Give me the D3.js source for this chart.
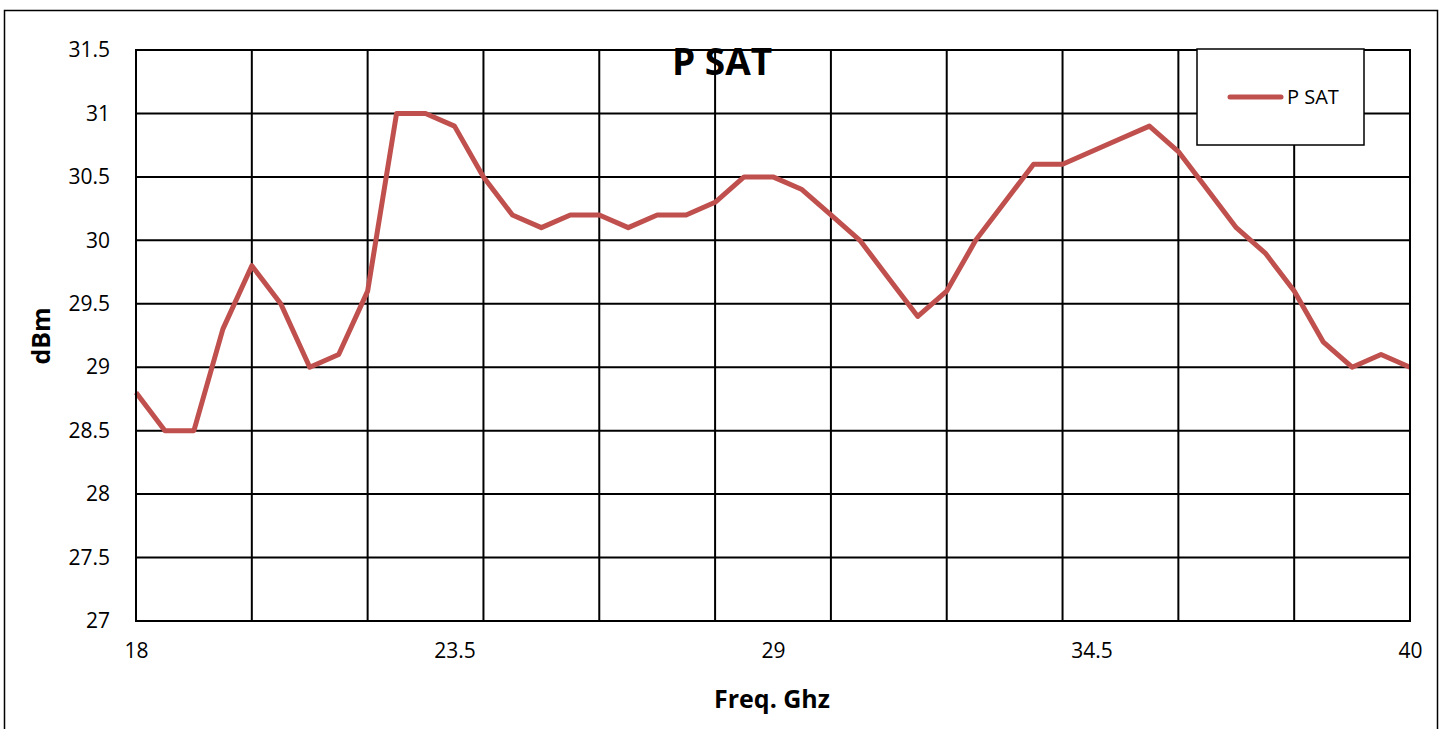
<!DOCTYPE html>
<html>
<head>
<meta charset="utf-8">
<script src="https://cdn.jsdelivr.net/npm/d3@7"></script>
<style>
  html, body { margin: 0; padding: 0; background: #fff; }
  svg { display: block; }
  text { font-family: "Open Sans", "Liberation Sans", sans-serif; fill: #000; }
</style>
</head>
<body>
<script>
// ---- data ----
const freqs = [18, 18.5, 19, 19.5, 20, 20.5, 21, 21.5, 22, 22.5, 23, 23.5, 24, 24.5, 25, 25.5,
  26, 26.5, 27, 27.5, 28, 28.5, 29, 29.5, 30, 30.5, 31, 31.5, 32, 32.5, 33, 33.5, 34, 34.5,
  35, 35.5, 36, 36.5, 37, 37.5, 38, 38.5, 39, 39.5, 40];
const psat = [28.8, 28.5, 28.5, 29.3, 29.8, 29.5, 29.0, 29.1, 29.6, 31.0, 31.0, 30.9, 30.5, 30.2, 30.1, 30.2,
  30.2, 30.1, 30.2, 30.2, 30.3, 30.5, 30.5, 30.4, 30.2, 30.0, 29.7, 29.4, 29.6, 30.0, 30.3, 30.6, 30.6, 30.7,
  30.8, 30.9, 30.7, 30.4, 30.1, 29.9, 29.6, 29.2, 29.0, 29.1, 29.0];
const xGridValues = [18, 20, 22, 24, 26, 28, 30, 32, 34, 36, 38, 40];
const xTickLabels = [18, 23.5, 29, 34.5, 40];
const yTicks = [27, 27.5, 28, 28.5, 29, 29.5, 30, 30.5, 31, 31.5];
const seriesName = "P SAT";
const chartTitle = "P SAT";
const xTitle = "Freq. Ghz";
const yTitle = "dBm";

// ---- layout ----
const W = 1447, H = 729;
const plot = { left: 136, right: 1410, top: 50, bottom: 621 };
const lineColor = "#C0504D";

const svg = d3.select("body").append("svg").attr("width", W).attr("height", H);

// outer chart border
svg.append("rect").attr("x", 4.5).attr("y", 10.5).attr("width", 1433).attr("height", 740)
  .attr("fill", "none").attr("stroke", "#000").attr("stroke-width", 1.5);

const x = d3.scaleLinear().domain([18, 40]).range([plot.left, plot.right]);
const y = d3.scaleLinear().domain([27, 31.5]).range([plot.bottom, plot.top]);

// gridlines
const g = svg.append("g");
g.selectAll("line.h").data(yTicks).join("line")
  .attr("x1", plot.left).attr("x2", plot.right)
  .attr("y1", d => y(d)).attr("y2", d => y(d))
  .attr("stroke", "#000").attr("stroke-width", 2);
g.selectAll("line.v").data(xGridValues).join("line")
  .attr("y1", plot.top).attr("y2", plot.bottom)
  .attr("x1", d => x(d)).attr("x2", d => x(d))
  .attr("stroke", "#000").attr("stroke-width", 2);

// y-axis labels
const yAxis = d3.axisLeft(y).tickValues(yTicks).tickSize(0).tickPadding(26)
  .tickFormat(d => d3.format("~g")(d));
svg.append("g").attr("transform", `translate(${plot.left},0)`).call(yAxis)
  .call(s => s.select(".domain").remove())
  .selectAll("text").attr("font-size", 21).attr("font-family", "'Open Sans', sans-serif").attr("fill", "#000");

// x-axis labels
const xAxis = d3.axisBottom(x).tickValues(xTickLabels).tickSize(0).tickPadding(22)
  .tickFormat(d => d3.format("~g")(d));
svg.append("g").attr("transform", `translate(0,${plot.bottom})`).call(xAxis)
  .call(s => s.select(".domain").remove())
  .selectAll("text").attr("font-size", 21).attr("font-family", "'Open Sans', sans-serif").attr("fill", "#000");

// data line
const line = d3.line().x((d, i) => x(freqs[i])).y(d => y(d));
svg.append("path").datum(psat).attr("d", line)
  .attr("fill", "none").attr("stroke", lineColor).attr("stroke-width", 5)
  .attr("stroke-linejoin", "round").attr("stroke-linecap", "butt");

// plot border
svg.append("rect").attr("x", plot.left).attr("y", plot.top)
  .attr("width", plot.right - plot.left).attr("height", plot.bottom - plot.top)
  .attr("fill", "none").attr("stroke", "#000").attr("stroke-width", 2);

// title
svg.append("text").attr("x", 722).attr("y", 75).attr("text-anchor", "middle")
  .attr("font-size", 37).attr("font-weight", "bold").text(chartTitle);

// axis titles
svg.append("text").attr("x", 772).attr("y", 708).attr("text-anchor", "middle")
  .attr("font-size", 25).attr("font-weight", "bold").text(xTitle);
svg.append("text").attr("transform", "translate(50,336) rotate(-90)").attr("text-anchor", "middle")
  .attr("font-size", 25).attr("font-weight", "bold").text(yTitle);

// legend
const lg = svg.append("g");
lg.append("rect").attr("x", 1197).attr("y", 49).attr("width", 167).attr("height", 96)
  .attr("fill", "#fff").attr("stroke", "#000").attr("stroke-width", 1.5);
lg.append("line").attr("x1", 1230).attr("x2", 1281).attr("y1", 97).attr("y2", 97)
  .attr("stroke", lineColor).attr("stroke-width", 5).attr("stroke-linecap", "round");
lg.append("text").attr("x", 1287).attr("y", 104).attr("font-size", 20).text(seriesName);
</script>
</body>
</html>
